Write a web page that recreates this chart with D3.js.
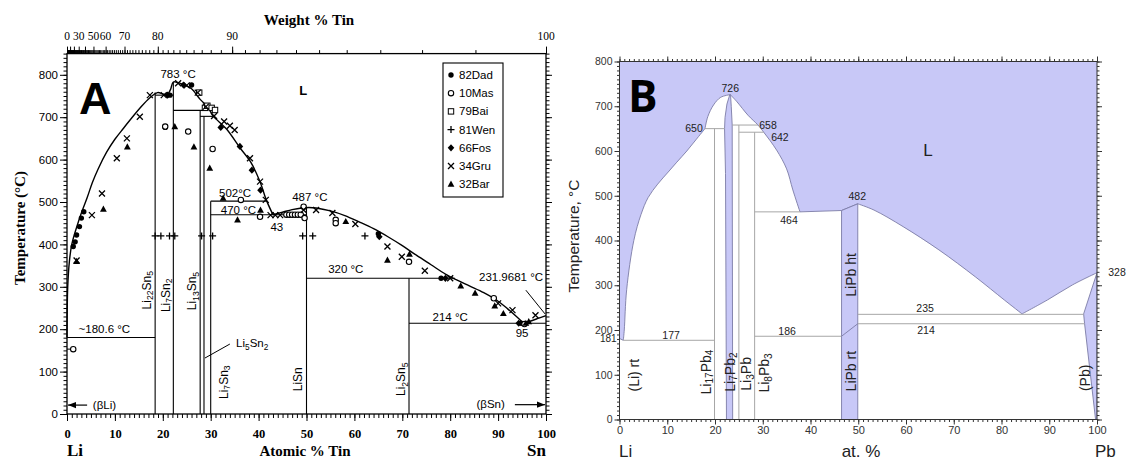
<!DOCTYPE html>
<html><head><meta charset="utf-8">
<script src="https://cdn.jsdelivr.net/npm/d3@7"></script>
<style>body{margin:0;background:#fff}svg{display:block}</style>
</head><body>
<svg id="c" width="1126" height="466"></svg>
<script>
// ================= Panel A : Li–Sn =================
const tempTicksA = [0,100,200,300,400,500,600,700,800];
const atTicks = [0,10,20,30,40,50,60,70,80,90,100];
const wtMajor = [0,10,20,30,40,50,60,70,80,90,100];
const wtLabels = [0,30,50,60,70,80,90,100];

// liquidus pieces [at.% Sn, °C]
const liqA1 = [[0,180.6],[0.15,300],[0.5,360],[1,400],[2,440],[3,474],[4.2,510],[5.3,546],[6.5,578],[8.3,618],[10,648],[11.8,674],[13.5,698],[15.2,721],[17.3,746],[18.9,758],[20,755],[21,752]];
const liqA2 = [[21,752],[21.6,765],[22.2,783],[23,782],[24.5,776],[26,767],[27.8,742],[29.5,722],[30.5,703],[33.3,672],[36.1,628],[38.3,595],[40.3,548],[41.6,505],[43,470]];
const liqA3 = [[43,470],[45,476],[47,482],[49,486],[50.5,487],[52,486],[55,479],[58,468],[61,453],[64,437],[67,418],[70,397],[73,374],[76,352],[79,330],[81,318],[84,302],[87,286],[90,266],[92,248],[94,228],[95.3,214]];
const liqA4 = [[95.3,214],[97,220],[98.5,226],[100,232]];

// invariant lines / compounds [x1,T1,x2,T2]
const linesA = [
  [0,180.6,18.4,180.6],[18.4,0,18.4,758],[18.4,752,22.2,752],[22.2,0,22.2,783],
  [22.2,716,29.3,716],[27.8,0,27.8,716],[27.8,702,30.5,702],[28.6,0,28.6,702],
  [30,0,30,502],[30,502,41.7,502],[30,470,50,470],[50,0,50,487],
  [50,320,81,320],[71.4,0,71.4,320],[71.4,214,100,214]
];

// experimental points
const dad82 = [[1.3,395],[1.7,406],[2,422],[2.6,442],[3,462],[3.5,477],[20.5,676],[21.5,752],[26,776],[65,425],[78.1,320],[94.8,214]];
const mas10 = [[1.3,153],[20.5,678],[25.3,666],[30.4,625],[36.3,505],[40.3,465],[45.8,470],[46.4,470],[47,470],[47.6,470],[48.2,470],[48.8,470],[49.6,462],[49.4,489],[56.1,458],[56.1,450],[71.4,359],[89.1,273],[95.5,212]];
const bai79 = [[27.6,758],[28.8,722],[29.3,727],[30.2,722],[30.9,717]];
const wen81 = [[18.4,420],[19.6,420],[21.4,420],[22.5,420],[28.1,420],[30.4,420],[49.2,420],[51.3,420],[62.2,420]];
const fos66 = [[21,752],[24.3,776],[32.1,676],[36.1,631],[38.6,575],[40.4,528],[65.2,418],[79,320],[94.3,214]];
const gru34 = [[2,362],[5.2,469],[7.3,520],[10.4,603],[12.5,650],[15.2,701],[17.3,752],[20.2,752],[23.2,780],[25,775],[27.3,758],[29,725],[30.7,703],[32.8,690],[34,680],[35,670],[38.2,603],[40.3,548],[41.5,505],[42.5,469],[43.5,469],[44.5,469],[49.4,481],[52,481],[55.4,474],[60.2,448],[66.9,395],[69.9,371],[74.7,338],[80,320],[90,261],[93,245],[97.8,233]];
const bar32 = [[2,360],[7.6,483],[12.6,630],[22.5,678],[26.5,630],[29.8,580],[32.6,509],[35.6,458],[40.4,481],[58.2,454],[66.9,363],[71.5,377],[82.2,302],[85.2,285],[89.3,255],[91.1,237],[95.8,214],[96.4,218]];
const seriesNames = ["82Dad","10Mas","79Bai","81Wen","66Fos","34Gru","32Bar"];
const seriesTypes = ["dot","circle","square","plus","diamond","cross","triangle"];
const seriesData = [dad82,mas10,bai79,wen81,fos66,gru34,bar32];

// ================= Panel B : Li–Pb =================
const tempTicksB = [0,100,200,300,400,500,600,700,800];
const liqB1 = [[0,181],[0.8,177]];
const liqB2 = [[0.8,177],[1.0,200],[1.5,290],[3.0,400],[4.5,458],[6,496],[8,526],[10.2,553],[12,575],[14.1,600],[16,625],[17.9,650]];
const liqB3 = [[17.9,650],[18.5,677],[19.7,703],[21.2,720],[23.2,726]];
const liqB4 = [[23.2,726],[24.6,710],[26.9,680],[29.0,658],[30.2,642],[32.9,602],[35,560],[36.3,513],[37.8,464]];
const liqB5 = [[37.8,464],[46.5,467],[49.9,482]];
const liqB6 = [[49.9,482],[53.3,468],[59.4,431],[66.9,379],[74.5,319],[80.6,267],[84.3,236]];
const liqB7 = [[84.3,236],[89.6,267],[94.9,301],[100,328]];
const li7pb2Band = [[23.1,726],[22.5,705],[22.1,675],[22.0,650],[22.2,550],[22.4,0],[23.7,0],[23.6,658],[23.4,700],[23.25,726]];
const lipbBand = [[46.5,0],[46.5,467],[49.9,482],[49.9,0]];
const pbBand = [[100,328],[97.2,236],[97.4,214],[99.7,0],[100,0]];
const linesB = [
  [0.8,177,19.9,177],[19.9,0,19.9,650],[17.9,650,22.0,650],[25,0,25,658],[23.6,658,29.0,658],
  [25,642,30.2,642],[28.3,0,28.3,642],[28.3,186,46.5,186],[28.3,464,37.8,464],
  [49.9,235,97.2,235],[49.9,214,97.4,214]
];

// ================= drawing =================
const svg = d3.select("#c");
const SERIF = "'Liberation Serif','Times New Roman',serif";
const SANS = "'Liberation Sans',Arial,sans-serif";

function formula(t, str){
  const parts = str.match(/[^0-9]+|[0-9]+/g);
  let sub = false;
  parts.forEach(p=>{
    const isNum = /^[0-9]+$/.test(p);
    const ts = t.append("tspan").text(p);
    if(isNum){ ts.attr("font-size","0.72em").attr("dy", sub? 0 : 3.5); sub = true; }
    else { if(sub) ts.attr("dy",-3.5); sub=false; }
  });
}

// ---------- Panel A ----------
const xA = d3.scaleLinear().domain([0,100]).range([67,546]);
const yA = d3.scaleLinear().domain([0,850]).range([414,53.6]);
const gA = svg.append("g");
function wt2at(w){ const a=w/118.71, b=(100-w)/6.941; return 100*a/(a+b); }

function styleAxis(g, font, size, weight){
  g.select(".domain").remove();
  g.attr("font-family",font).attr("font-size",size);
  g.selectAll("text").attr("font-weight",weight||"normal").attr("fill","#000");
  g.selectAll("line").attr("stroke","#000").attr("stroke-width",1);
}
gA.append("g").attr("transform","translate(67,0)")
  .call(d3.axisLeft(yA).tickValues(d3.range(0,851,10)).tickSize(3.5).tickFormat(""))
  .call(g=>styleAxis(g,SANS,11));
gA.append("g").attr("transform","translate(67,0)")
  .call(d3.axisLeft(yA).tickValues(tempTicksA).tickSize(7).tickPadding(2).tickFormat(d3.format("d")))
  .call(g=>styleAxis(g,SANS,11.5));
gA.append("g").attr("transform","translate(546,0)")
  .call(d3.axisRight(yA).tickValues(d3.range(0,851,10)).tickSize(3.5).tickFormat(""))
  .call(g=>styleAxis(g,SANS,11));
gA.append("g").attr("transform","translate(546,0)")
  .call(d3.axisRight(yA).tickValues(tempTicksA).tickSize(6).tickFormat(""))
  .call(g=>styleAxis(g,SANS,11));
gA.append("g").attr("transform","translate(0,414)")
  .call(d3.axisBottom(xA).tickValues(d3.range(0,101,1)).tickSize(4).tickFormat(""))
  .call(g=>styleAxis(g,SERIF,12));
gA.append("g").attr("transform","translate(0,414)")
  .call(d3.axisBottom(xA).tickValues(atTicks).tickSize(7).tickPadding(8).tickFormat(d3.format("d")))
  .call(g=>styleAxis(g,SERIF,12.5,"bold"));
gA.append("g").attr("transform",`translate(0,${yA(850)})`)
  .call(d3.axisTop(xA).tickValues(d3.range(0,101,1).map(wt2at)).tickSize(3.5).tickFormat(""))
  .call(g=>styleAxis(g,SERIF,11));
gA.append("g").attr("transform",`translate(0,${yA(850)})`)
  .call(d3.axisTop(xA).tickValues(wtMajor.map(wt2at)).tickSize(7).tickFormat(""))
  .call(g=>styleAxis(g,SERIF,11));
gA.append("g").selectAll("text").data(wtLabels).join("text")
  .attr("x",d=>xA(wt2at(d))).attr("y",40).attr("text-anchor","middle")
  .attr("font-family",SERIF).attr("font-size",11.5).text(d=>d);
gA.append("rect").attr("x",xA(0)).attr("y",yA(850)).attr("width",xA(100)-xA(0)).attr("height",yA(0)-yA(850))
  .attr("fill","none").attr("stroke","#000").attr("stroke-width",1.3);

gA.append("g").selectAll("line").data(linesA).join("line")
  .attr("x1",d=>xA(d[0])).attr("y1",d=>yA(d[1])).attr("x2",d=>xA(d[2])).attr("y2",d=>yA(d[3]))
  .attr("stroke","#000").attr("stroke-width",1.1);
const lineA = d3.line().x(d=>xA(d[0])).y(d=>yA(d[1])).curve(d3.curveCatmullRom.alpha(0.5));
[liqA1,liqA2,liqA3,liqA4].forEach(p=>{
  gA.append("path").attr("d",lineA(p)).attr("fill","none").attr("stroke","#000").attr("stroke-width",1.4);
});

function marker(g,type,x,y){
  const s=2.7;
  switch(type){
    case "dot": g.append("circle").attr("cx",x).attr("cy",y).attr("r",s).attr("fill","#000"); break;
    case "circle": g.append("circle").attr("cx",x).attr("cy",y).attr("r",s).attr("fill","#fff").attr("stroke","#000").attr("stroke-width",1.1); break;
    case "square": g.append("rect").attr("x",x-s).attr("y",y-s).attr("width",2*s).attr("height",2*s).attr("fill","#fff").attr("stroke","#000").attr("stroke-width",1); break;
    case "plus": g.append("path").attr("d",`M${x-3.5},${y}H${x+3.5}M${x},${y-3.5}V${y+3.5}`).attr("stroke","#000").attr("stroke-width",1.3); break;
    case "diamond": g.append("path").attr("d",`M${x},${y-3.6}L${x+3.3},${y}L${x},${y+3.6}L${x-3.3},${y}Z`).attr("fill","#000"); break;
    case "cross": g.append("path").attr("d",`M${x-3},${y-3}L${x+3},${y+3}M${x+3},${y-3}L${x-3},${y+3}`).attr("stroke","#000").attr("stroke-width",1.3); break;
    case "triangle": g.append("path").attr("d",`M${x},${y-3.6}L${x+3.4},${y+2.6}L${x-3.4},${y+2.6}Z`).attr("fill","#000"); break;
  }
}
const gM = gA.append("g");
seriesData.forEach((arr,i)=>arr.forEach(d=>marker(gM,seriesTypes[i],xA(d[0]),yA(d[1]))));
gA.append("line").attr("x1",xA(0)).attr("x2",xA(1.3)-2.7).attr("y1",yA(153)).attr("y2",yA(153)).attr("stroke","#000");

const lg = gA.append("g");
lg.append("rect").attr("x",443).attr("y",63).attr("width",60).attr("height",134).attr("fill","#fff").attr("stroke","#000").attr("stroke-width",1.1);
seriesNames.forEach((n,i)=>{
  const yy = 75 + i*18.2;
  marker(lg,seriesTypes[i],451,yy);
  lg.append("text").attr("x",459).attr("y",yy+4).attr("font-family",SANS).attr("font-size",11.5).text(n);
});

const annA = [
  ["783 °C",23.2,803,"middle"],["L",49.3,763,"middle"],["487 °C",50.7,511,"middle"],["502°C",35.1,521,"middle"],
  ["470 °C",35.8,481,"middle"],["43",43.8,441,"middle"],["320 °C",58.2,342,"middle"],["231.9681 °C",92.7,323,"middle"],
  ["214 °C",80,229,"middle"],["95",95,191,"middle"],["~180.6 °C",7.8,200,"middle"],["Li5Sn2",35.3,167,"start"],
  ["(βLi)",5.4,21,"start"],["(βSn)",91.4,23.5,"end"]
];
annA.forEach(a=>{
  const t = gA.append("text").attr("x",xA(a[1])).attr("y",yA(a[2])).attr("text-anchor",a[3])
    .attr("dominant-baseline","central").attr("font-family",SANS).attr("font-size",a[0]==="L"?13:11.5)
    .attr("font-weight",a[0]==="L"?"bold":"normal");
  if(a[0]==="Li5Sn2") formula(t,a[0]); else t.text(a[0]);
});
const defs = svg.append("defs");
defs.append("marker").attr("id","ah").attr("viewBox","0 0 10 10").attr("refX",10).attr("refY",5)
  .attr("markerWidth",7).attr("markerHeight",7).attr("orient","auto")
  .append("path").attr("d","M0,1L10,5L0,9Z").attr("fill","#000");
gA.append("line").attr("x1",xA(4.2)).attr("y1",yA(21)).attr("x2",xA(0)+1).attr("y2",yA(21)).attr("stroke","#000").attr("stroke-width",1.2).attr("marker-end","url(#ah)");
gA.append("line").attr("x1",xA(93.5)).attr("y1",yA(22)).attr("x2",xA(100)-1).attr("y2",yA(22)).attr("stroke","#000").attr("stroke-width",1.2).attr("marker-end","url(#ah)");
gA.append("line").attr("x1",xA(28.8)).attr("y1",yA(132)).attr("x2",xA(34)).attr("y2",yA(165)).attr("stroke","#000").attr("stroke-width",1);
gA.append("line").attr("x1",xA(95.8)).attr("y1",yA(292)).attr("x2",xA(99.8)).attr("y2",yA(236)).attr("stroke","#000").attr("stroke-width",1);

const rotA = [["Li22Sn5",16.6,292],["Li7Sn2",20.6,280],["Li13Sn5",26.2,290],["Li7Sn3",32.7,75],["LiSn",48.3,82],["Li2Sn5",69.8,82]];
rotA.forEach(r=>{
  const t = gA.append("text").attr("transform",`translate(${xA(r[1])},${yA(r[2])}) rotate(-90)`)
    .attr("text-anchor","middle").attr("dominant-baseline","central").attr("font-family",SANS).attr("font-size",12);
  formula(t,r[0]);
});
gA.append("text").attr("x",79).attr("y",114).attr("font-family",SANS).attr("font-weight","bold").attr("font-size",45).text("A");
gA.append("text").attr("x",309).attr("y",25).attr("text-anchor","middle").attr("font-family",SERIF).attr("font-weight","bold").attr("font-size",15).text("Weight % Tin");
gA.append("text").attr("transform","translate(25,228) rotate(-90)").attr("text-anchor","middle").attr("font-family",SERIF).attr("font-weight","bold").attr("font-size",15).text("Temperature (°C)");
gA.append("text").attr("x",67).attr("y",456).attr("font-family",SERIF).attr("font-weight","bold").attr("font-size",17).text("Li");
gA.append("text").attr("x",305).attr("y",456).attr("text-anchor","middle").attr("font-family",SERIF).attr("font-weight","bold").attr("font-size",15).text("Atomic % Tin");
gA.append("text").attr("x",546).attr("y",456).attr("text-anchor","end").attr("font-family",SERIF).attr("font-weight","bold").attr("font-size",17).text("Sn");

// ---------- Panel B ----------
const xB = d3.scaleLinear().domain([0,100]).range([619.5,1097]);
const yB = d3.scaleLinear().domain([0,800]).range([419.5,61.5]);
const gB = svg.append("g");
const FILL = "#c8c8f7", EDGE = "#7c7ca6", GRAY = "#a6a6a6";
defs.append("clipPath").attr("id","clipB").append("rect")
  .attr("x",xB(0)).attr("y",yB(800)).attr("width",xB(100)-xB(0)).attr("height",yB(0)-yB(800));
const pB = gB.append("g").attr("clip-path","url(#clipB)");
const lineB = d3.line().x(d=>xB(d[0])).y(d=>yB(d[1]));
const curveB = d3.line().x(d=>xB(d[0])).y(d=>yB(d[1])).curve(d3.curveCatmullRom.alpha(0.5));
const piecesB = [[liqB1,false],[liqB2,true],[liqB3,true],[liqB4,true],[liqB5,false],[liqB6,true],[liqB7,true]];
const liqPath = piecesB.map(([p,c])=>(c?curveB(p):lineB(p)).replace(/^M/,"L")).join("");
const liquidD = `M${xB(0)},${yB(800)}L${xB(0)},${yB(181)}` + liqPath + `L${xB(100)},${yB(800)}Z`;
pB.append("path").attr("d",liquidD).attr("fill",FILL).attr("stroke","none");
pB.append("path").attr("d","M"+liqPath.slice(1)).attr("fill","none").attr("stroke",EDGE).attr("stroke-width",0.9);
[li7pb2Band,lipbBand,pbBand].forEach(p=>{
  pB.append("path").attr("d",lineB(p)+"Z").attr("fill",FILL).attr("stroke",EDGE).attr("stroke-width",0.9);
});
pB.append("g").selectAll("line").data(linesB).join("line")
  .attr("x1",d=>xB(d[0])).attr("y1",d=>yB(d[1])).attr("x2",d=>xB(d[2])).attr("y2",d=>yB(d[3]))
  .attr("stroke",GRAY).attr("stroke-width",1);
pB.append("line").attr("x1",xB(46.5)).attr("y1",yB(186)).attr("x2",xB(49.9)).attr("y2",yB(214)).attr("stroke",EDGE).attr("stroke-width",0.9);

function styleB(g,size){
  g.select(".domain").remove();
  g.attr("font-family",SANS).attr("font-size",size||10.5);
  g.selectAll("text").attr("fill","#333");
  g.selectAll("line").attr("stroke","#333").attr("stroke-width",1);
}
gB.append("g").attr("transform",`translate(${xB(0)},0)`).call(d3.axisLeft(yB).tickValues(d3.range(0,801,10)).tickSize(2.5).tickFormat("")).call(g=>styleB(g));
gB.append("g").attr("transform",`translate(${xB(0)},0)`).call(d3.axisLeft(yB).tickValues(tempTicksB).tickSize(5).tickPadding(2).tickFormat(d3.format("d"))).call(g=>styleB(g));
gB.append("g").attr("transform",`translate(${xB(100)},0)`).call(d3.axisRight(yB).tickValues(d3.range(0,801,10)).tickSize(2.5).tickFormat("")).call(g=>styleB(g));
gB.append("g").attr("transform",`translate(${xB(100)},0)`).call(d3.axisRight(yB).tickValues(tempTicksB).tickSize(5).tickFormat("")).call(g=>styleB(g));
gB.append("g").attr("transform",`translate(0,${yB(0)})`).call(d3.axisBottom(xB).tickValues(d3.range(0,101,1)).tickSize(2.5).tickFormat("")).call(g=>styleB(g));
gB.append("g").attr("transform",`translate(0,${yB(0)})`).call(d3.axisBottom(xB).tickValues(atTicks).tickSize(5).tickPadding(2).tickFormat(d3.format("d"))).call(g=>styleB(g,11));
gB.append("g").attr("transform",`translate(0,${yB(800)})`).call(d3.axisTop(xB).tickValues(d3.range(0,101,1)).tickSize(2.5).tickFormat("")).call(g=>styleB(g));
gB.append("g").attr("transform",`translate(0,${yB(800)})`).call(d3.axisTop(xB).tickValues(atTicks).tickSize(5).tickFormat("")).call(g=>styleB(g));
gB.append("rect").attr("x",xB(0)).attr("y",yB(800)).attr("width",xB(100)-xB(0)).attr("height",yB(0)-yB(800))
  .attr("fill","none").attr("stroke","#333").attr("stroke-width",1);

const annB = [["726",23.2,741,"middle"],["650",15.6,651,"middle"],["658",31.1,658,"middle"],["642",33.6,631,"middle"],
  ["482",49.8,499,"middle"],["464",35.5,446,"middle"],["235",64,249,"middle"],["214",64.2,200,"middle"],
  ["186",35.1,198,"middle"],["177",10.8,189,"middle"],["181",-0.6,181,"end"],["328",104.2,330,"middle"]];
annB.forEach(a=>{
  gB.append("text").attr("x",xB(a[1])).attr("y",yB(a[2])).attr("text-anchor",a[3]).attr("dominant-baseline","central")
    .attr("font-family",SANS).attr("font-size",a[0]==="181"?10:10.5).attr("fill","#222").text(a[0]);
});
gB.append("text").attr("x",xB(64.6)).attr("y",yB(602)).attr("text-anchor","middle").attr("dominant-baseline","central")
  .attr("font-family",SANS).attr("font-size",17).attr("fill","#222").text("L");
const rotB = [["LiPb ht",48.4,323],["LiPb rt",48.4,108],["(Li) rt",3.0,99],["Li17Pb4",18.1,106],["Li7Pb2",23.1,106],["Li3Pb",26.5,102],["Li8Pb3",30.3,104],["(Pb)",97.5,93]];
rotB.forEach(r=>{
  const t = gB.append("text").attr("transform",`translate(${xB(r[1])},${yB(r[2])}) rotate(-90)`)
    .attr("text-anchor","middle").attr("dominant-baseline","central").attr("font-family",SANS).attr("font-size",14).attr("fill","#222");
  if(/\d/.test(r[0])) formula(t,r[0]); else t.text(r[0]);
});
gB.append("text").attr("x",628).attr("y",112).attr("font-family","'Open Sans',sans-serif").attr("font-weight","bold").attr("font-size",44).text("B");
gB.append("text").attr("transform","translate(579,236) rotate(-90)").attr("text-anchor","middle").attr("font-family",SANS).attr("font-size",15.5).attr("fill","#222").text("Temperature, °C");
gB.append("text").attr("x",619).attr("y",457).attr("font-family",SANS).attr("font-size",17).attr("fill","#222").text("Li");
gB.append("text").attr("x",861).attr("y",457).attr("text-anchor","middle").attr("font-family",SANS).attr("font-size",17).attr("fill","#222").text("at. %");
gB.append("text").attr("x",1095).attr("y",457).attr("font-family",SANS).attr("font-size",17).attr("fill","#222").text("Pb");
</script>
</body></html>
